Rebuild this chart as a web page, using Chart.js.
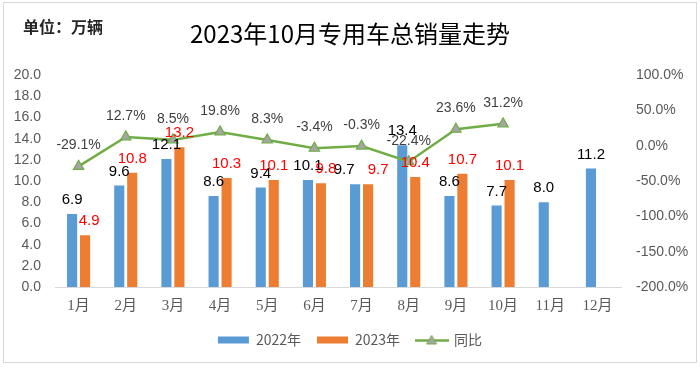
<!DOCTYPE html>
<html>
<head>
<meta charset="utf-8">
<script src="https://cdn.jsdelivr.net/npm/chart.js@4"></script>
<style>
  html, body { margin: 0; padding: 0; background: #fff; }
  #wrap { position: relative; width: 700px; height: 368px; }
  #frame { position: absolute; left: 3px; top: 2px; width: 694px; height: 361px; border: 1.5px solid #d9d9d9; box-sizing: border-box; }
  canvas { position: absolute; left: 0; top: 0; }
</style>
</head>
<body>
<div id="wrap">
  <div id="frame"></div>
  <canvas id="c" width="700" height="368"></canvas>
</div>
<script>
// ---- data ----
const months = ['1月','2月','3月','4月','5月','6月','7月','8月','9月','10月','11月','12月'];
const sales2022 = [6.9, 9.6, 12.1, 8.6, 9.4, 10.1, 9.7, 13.4, 8.6, 7.7, 8.0, 11.2];
const sales2023 = [4.9, 10.8, 13.2, 10.3, 10.1, 9.8, 9.7, 10.4, 10.7, 10.1, null, null];
const yoy = [-29.1, 12.7, 8.5, 19.8, 8.3, -3.4, -0.3, -22.4, 23.6, 31.2, null, null];
const titleText = '2023年10月专用车总销量走势';
const unitText = '单位：万辆';
const seriesNames = ['2022年', '2023年', '同比'];

// small horizontal nudges of the value labels (as in the original, to avoid overlap)
const shift2022 = [0, 0, 0, 0, 0, 0, -11, 0, 0, 0, 0, 0];
const shift2023 = [4, 0, 0, 0, 0, 5, 10, 0, 0, 0, 0, 0];

const BLUE = '#5B9BD5', ORANGE = '#ED7D31', GREEN = '#70AD47', MARKER = '#A5A5A5';
const SANS = '"Liberation Sans", Arial, "Noto Sans CJK SC", sans-serif';
const CJK = '"Noto Sans CJK SC", "Liberation Sans", sans-serif';

// legend icon for the line series
const lineIcon = document.createElement('canvas');
lineIcon.width = 34; lineIcon.height = 12;
(function () {
  const g = lineIcon.getContext('2d');
  g.strokeStyle = GREEN; g.lineWidth = 2.5;
  g.beginPath(); g.moveTo(0, 6.5); g.lineTo(34, 6.5); g.stroke();
  g.beginPath(); g.moveTo(17, 1.5); g.lineTo(22, 10); g.lineTo(12, 10); g.closePath();
  g.fillStyle = MARKER; g.fill(); g.strokeStyle = GREEN; g.lineWidth = 1; g.stroke();
})();

const labelPlugin = {
  id: 'valueLabels',
  afterDatasetsDraw(chart) {
    const ctx = chart.ctx;
    ctx.save();
    ctx.textAlign = 'center';
    ctx.textBaseline = 'middle';
    chart.data.datasets.forEach((ds, di) => {
      const meta = chart.getDatasetMeta(di);
      meta.data.forEach((el, i) => {
        const v = ds.data[i];
        if (v === null || v === undefined) return;
        if (ds.type === 'line') {
          ctx.font = '14px ' + SANS;
          ctx.fillStyle = '#404040';
          ctx.fillText(v.toFixed(1) + '%', el.x, el.y - 21);
        } else {
          ctx.font = '15px ' + SANS;
          ctx.fillStyle = di === 0 ? '#000000' : '#FF0000';
          const dx = di === 0 ? shift2022[i] : shift2023[i];
          ctx.fillText(v.toFixed(1), el.x + dx, el.y - 14);
        }
      });
    });
    ctx.restore();
  }
};

const unitPlugin = {
  id: 'unitText',
  afterDraw(chart) {
    const ctx = chart.ctx;
    ctx.save();
    ctx.font = 'bold 16px ' + CJK;
    ctx.fillStyle = '#262626';
    ctx.textAlign = 'left';
    ctx.textBaseline = 'middle';
    ctx.fillText(unitText, 23, 27);
    ctx.restore();
  }
};

new Chart(document.getElementById('c'), {
  data: {
    labels: months,
    datasets: [
      { type: 'bar', label: seriesNames[0], data: sales2022, backgroundColor: BLUE, yAxisID: 'y', order: 2,
        categoryPercentage: 0.55, barPercentage: 0.78 },
      { type: 'bar', label: seriesNames[1], data: sales2023, backgroundColor: ORANGE, yAxisID: 'y', order: 2,
        categoryPercentage: 0.55, barPercentage: 0.78 },
      { type: 'line', label: seriesNames[2], data: yoy, yAxisID: 'y1', order: 1,
        borderColor: GREEN, borderWidth: 2.5, tension: 0, spanGaps: false,
        pointStyle: 'triangle', pointRadius: 6, pointBackgroundColor: MARKER,
        pointBorderColor: GREEN, pointBorderWidth: 1.2 }
    ]
  },
  options: {
    responsive: false,
    animation: false,
    devicePixelRatio: 1,
    layout: { padding: { left: 0, right: 0, top: 0, bottom: 11 } },
    plugins: {
      title: {
        display: true, text: titleText, color: '#000000',
        font: { family: CJK, size: 24, weight: 'normal', lineHeight: 1.2 },
        padding: { top: 19.5, bottom: 27 }
      },
      legend: {
        position: 'bottom',
        labels: {
          color: '#595959', font: { family: CJK, size: 14 },
          usePointStyle: true, pointStyleWidth: 31, boxHeight: 7, padding: 16,
          generateLabels(chart) {
            return chart.data.datasets.map((ds, i) => ({
              text: ds.label, datasetIndex: i,
              fillStyle: ds.type === 'line' ? MARKER : ds.backgroundColor,
              strokeStyle: ds.type === 'line' ? GREEN : ds.backgroundColor,
              lineWidth: 0, fontColor: '#595959',
              pointStyle: ds.type === 'line' ? lineIcon : 'rect', hidden: false
            }));
          }
        }
      },
      tooltip: { enabled: false }
    },
    scales: {
      x: {
        grid: { display: false, drawTicks: false },
        border: { display: true, color: '#d9d9d9', width: 1 },
        ticks: { color: '#595959', font: { family: '"Liberation Serif", "Noto Sans CJK SC", serif', size: 15 }, padding: 10 },
        afterFit(s) { s.height = 30; }
      },
      y: {
        position: 'left', min: 0, max: 20,
        grid: { display: false, drawTicks: false }, border: { display: false },
        ticks: { stepSize: 2, color: '#595959', font: { family: SANS, size: 14 }, padding: 14,
          callback: v => Number(v).toFixed(1) },
        afterFit(s) { s.width = 55; }
      },
      y1: {
        position: 'right', min: -200, max: 100,
        grid: { display: false, drawTicks: false }, border: { display: false },
        ticks: { stepSize: 50, color: '#595959', font: { family: SANS, size: 14 }, padding: 15,
          callback: v => Number(v).toFixed(1) + '%' },
        afterFit(s) { s.width = 79; }
      }
    }
  },
  plugins: [labelPlugin, unitPlugin]
});
</script>
</body>
</html>
